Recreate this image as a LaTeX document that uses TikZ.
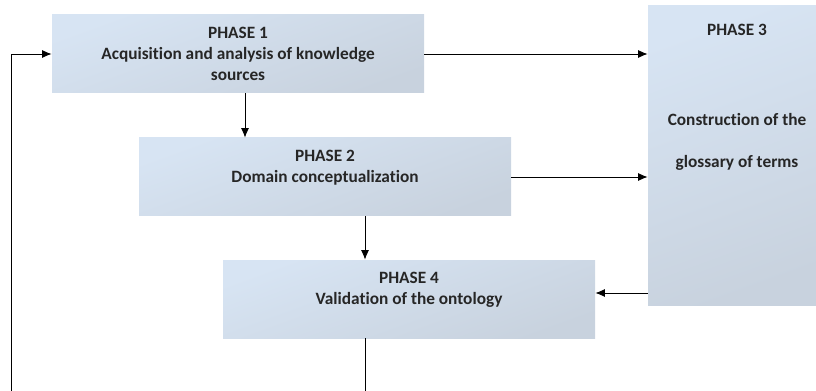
\documentclass[tikz,border=0pt]{standalone}
\usepackage{fontspec}
\setmainfont{Carlito}[Ligatures=NoCommon]
\usetikzlibrary{arrows.meta,positioning}
\definecolor{phasetop}{RGB}{215,228,243}
\definecolor{phasebot}{RGB}{200,210,222}
\definecolor{phaseink}{RGB}{38,38,38}
\tikzset{
  phase/.style={rectangle, inner sep=0pt, top color=phasetop, bottom color=phasebot,
    shading angle=20, text=phaseink, font=\bfseries\fontsize{12.3}{15.2}\selectfont,
    align=center, minimum width=9.3cm, minimum height=1.95cm},
  phasetext/.style={text=phaseink, font=\bfseries\fontsize{12.3}{15.2}\selectfont, align=center},
  flow/.style={-{Latex[length=2.4mm,width=2mm]}, line width=0.7pt, black}
}

\begin{document}
\begin{tikzpicture}
  \clip (0,0) rectangle (20.4,9.75);
  \useasboundingbox (0,0) rectangle (20.4,9.75);

  % phases (text sits at the top of each box)
  \node[phase] (p1) at (5.95,8.4) {PHASE 1\\Acquisition and analysis of knowledge\\sources};
  \node[phase] (p2) at (8.125,5.325) {PHASE 2\\Domain conceptualization\\\mbox{}};
  \node[phase] (p4) at (10.225,2.275) {PHASE 4\\Validation of the ontology\\\mbox{}};
  \node[phase, minimum width=4.45cm, minimum height=7.475cm] (p3) at (18.425,5.8625) {};
  \node[phasetext, below=0.33cm of p3.north] (p3title) {PHASE 3};
  \node[phasetext, font=\bfseries\fontsize{12.3}{30}\selectfont] (p3body) at ([yshift=0.33cm]p3.center)
    {Construction of the\\glossary of terms};

  % helper points
  \coordinate (c12) at ([xshift=0.175cm]p1.south);
  \coordinate (col) at ([xshift=1cm]p2.south);
  \coordinate (c34) at ([yshift=0.15cm]p4.east);
  \coordinate (low) at (0.275,-0.5);

  % arrows
  \draw[flow] (p1.east) -- (p1.east -| p3.west);
  \draw[flow] (p2.east) -- (p2.east -| p3.west);
  \draw[flow] (c34 -| p3.west) -- (c34);
  \draw[flow] (c12) -- (c12 |- p2.north);
  \draw[flow] (col) -- (col |- p4.north);
  \draw[flow] (col |- p4.south) |- (low) |- (p1.west);
\end{tikzpicture}
\end{document}
